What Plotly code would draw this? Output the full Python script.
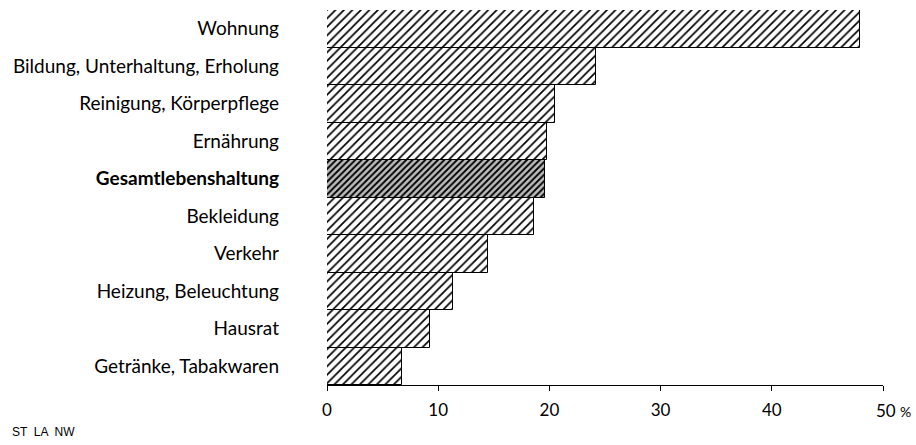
import plotly.graph_objects as go

categories = [
    "Wohnung",
    "Bildung, Unterhaltung, Erholung",
    "Reinigung, Körperpflege",
    "Ernährung",
    "Gesamtlebenshaltung",
    "Bekleidung",
    "Verkehr",
    "Heizung, Beleuchtung",
    "Hausrat",
    "Getränke, Tabakwaren",
]
values = [47.9, 24.2, 20.5, 19.8, 19.6, 18.6, 14.5, 11.3, 9.3, 6.7]
highlight = "Gesamtlebenshaltung"
tick_vals = [0, 10, 20, 30, 40, 50]
tick_text = ["0", "10", "20", "30", "40", ""]
last_tick_label = "50 <span style='font-size:14px'>%</span>"
source_note = "ST  LA  NW"

L, R, T, B = 327, 33, 10, 60
W, H = 916, 445

ticklabels = [f"<b>{c}</b>" if c == highlight else c for c in categories]
sizes = [4.5 if c == highlight else 6 for c in categories]
solid = [0.42 if c == highlight else 0.28 for c in categories]
bgs = ["#bdbdbd" if c == highlight else "white" for c in categories]

fig = go.Figure(
    go.Bar(
        x=values,
        y=categories,
        orientation="h",
        marker=dict(
            color="white",
            line=dict(color="black", width=1),
            pattern=dict(shape="/", size=sizes, solidity=solid,
                         fgcolor="black", bgcolor=bgs, fillmode="replace"),
        ),
        showlegend=False,
        hoverinfo="skip",
    )
)

fig.update_layout(
    width=W, height=H,
    margin=dict(l=L, r=R, t=T, b=B),
    paper_bgcolor="white", plot_bgcolor="white",
    bargap=0,
    font=dict(family="Lato", color="black", size=18),
    xaxis=dict(
        range=[0, 50], tickvals=tick_vals, ticktext=tick_text,
        showgrid=False, zeroline=False, showline=True, linecolor="black",
        linewidth=1, ticks="outside", ticklen=5, tickcolor="black",
        tickfont=dict(size=17), ticklabelstandoff=5, fixedrange=True,
    ),
    yaxis=dict(
        categoryorder="array", categoryarray=categories, autorange="reversed",
        tickvals=categories, ticktext=ticklabels,
        showgrid=False, zeroline=False, showline=False, ticks="",
        tickfont=dict(size=19), ticklabelstandoff=47, fixedrange=True,
    ),
    annotations=[
        dict(text=last_tick_label, xref="x", yref="paper", x=tick_vals[-1], y=0,
             xanchor="left", yanchor="middle", xshift=-8, yshift=-25,
             showarrow=False, borderpad=0, font=dict(size=17)),
        dict(text=source_note, xref="paper", yref="paper",
             x=(10 - L) / (W - L - R), y=(H - B - 432) / (H - T - B),
             xanchor="left", yanchor="middle", showarrow=False,
             font=dict(size=12, family="Liberation Sans")),
    ],
)

fig.write_html(
    "out.html",
    config={"displayModeBar": False},
    post_script="document.body.style.margin='0';document.body.style.overflow='hidden';",
)
